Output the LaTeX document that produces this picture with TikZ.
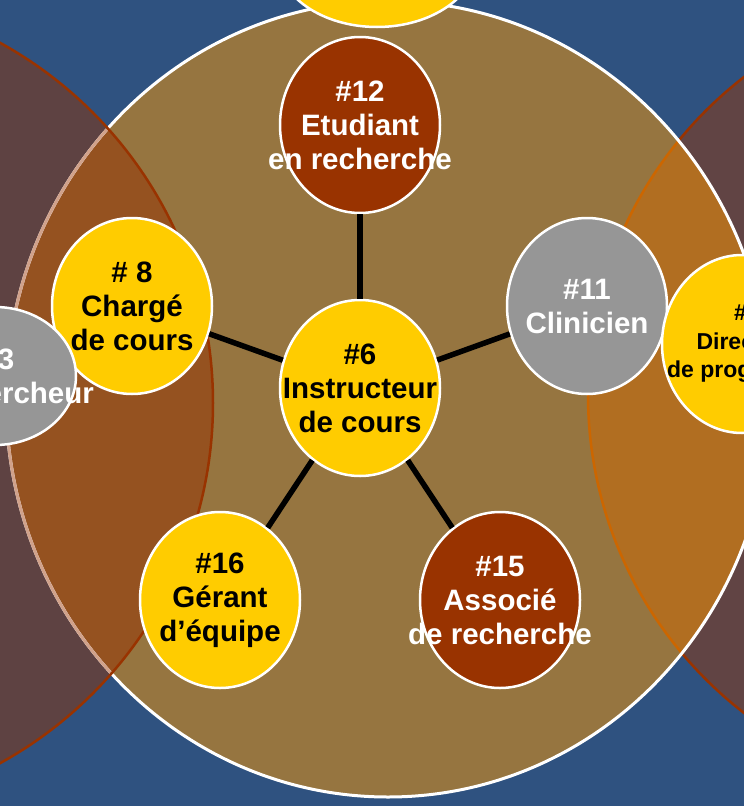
\documentclass[tikz,border=0pt]{standalone}
\usepackage{fontspec}
\setmainfont{Liberation Sans}
\usepackage{tikz}
\usetikzlibrary{shapes.geometric}

\definecolor{fond}{HTML}{2F5280}
\definecolor{sable}{HTML}{967540}
\definecolor{jaune}{HTML}{FFCC00}
\definecolor{rouille}{HTML}{993300}
\definecolor{gris}{HTML}{969696}
\definecolor{ombreG}{HTML}{5E4242}
\definecolor{ombreGin}{HTML}{955220}
\definecolor{ombreD}{HTML}{614444}
\definecolor{ombreDin}{HTML}{B16E21}
\definecolor{orangeD}{HTML}{CC6600}
\definecolor{pale}{HTML}{D1A28B}

\begin{document}
\begin{tikzpicture}[x=1pt,y=-1pt,
    role/.style={shape=ellipse, inner sep=0pt, draw=white, line width=2.5pt, minimum width=160pt, minimum height=176pt},
    txt/.style={align=center, font=\fontsize{29.5}{34}\selectfont\bfseries},
    petit/.style={align=center, font=\fontsize{23}{28.5}\selectfont\bfseries},
    lien/.style={line width=5.5pt, black}]
    \useasboundingbox (0,0) rectangle (744,806);
    \fill[fond] (0,0) rectangle (744,806);

    % cercles lateraux
    \fill[ombreG] (-198,403) circle[radius=411pt];
    \fill[ombreD] (990,395) circle[radius=402pt];
    \draw[rouille, line width=2.5pt] (990,395) circle[radius=402pt];

    % grand cercle
    \fill[sable] (388,399) ellipse[x radius=382pt, y radius=398pt];
    \begin{scope}
        \clip (388,399) ellipse[x radius=382pt, y radius=398pt];
        \fill[ombreGin] (-198,403) circle[radius=411pt];
        \fill[ombreDin] (990,395) circle[radius=402pt];
        \draw[orangeD, line width=2.5pt] (990,395) circle[radius=402pt];
    \end{scope}
    \draw[white, line width=3pt] (388,399) ellipse[x radius=382pt, y radius=398pt];
    \begin{scope}
        \clip (-198,403) circle[radius=411pt];
        \draw[pale, line width=3pt] (388,399) ellipse[x radius=382pt, y radius=398pt];
    \end{scope}
    \draw[rouille, line width=2.5pt] (-198,403) circle[radius=411pt];

    % roles
    \node[role, fill=jaune, minimum width=200pt, minimum height=140pt] (haut) at (377,-43) {};
    \node[role, fill=rouille, label={[txt,white]center:{\#12\\Etudiant\\en recherche}}] (etud) at (360,125) {};
    \node[role, fill=jaune, label={[txt]center:{\# 8\\Chargé\\de cours}}] (charge) at (132,306) {};
    \node[role, fill=gris, minimum width=162pt, minimum height=138pt, label={[txt,white,xshift=3pt]center:{\#3\\Co-chercheur}}] (cherch) at (-5,376) {};
    \node[role, fill=gris, label={[txt,white]center:{\#11\\Clinicien}}] (clin) at (587,306) {};
    \node[role, fill=jaune, minimum height=178pt, label={[petit,xshift=5pt]center:{\#7\\Directeur\\de programme}}] (direct) at (742,344) {};
    \node[role, fill=jaune, label={[txt]center:{\#6\\Instructeur\\de cours}}] (instr) at (360,388) {};
    \node[role, fill=jaune, label={[txt]center:{\#16\\Gérant\\d’équipe}}] (gerant) at (220,600) {};
    \node[role, fill=rouille, label={[txt,white]center:{\#15\\Associé\\de recherche}}] (assoc) at (500,600) {};

    \draw[lien] (instr) -- (etud);
    \draw[lien] (instr) -- (charge);
    \draw[lien] (instr) -- (clin);
    \draw[lien] (instr) -- (gerant);
    \draw[lien] (instr) -- (assoc);
\end{tikzpicture}
\end{document}
